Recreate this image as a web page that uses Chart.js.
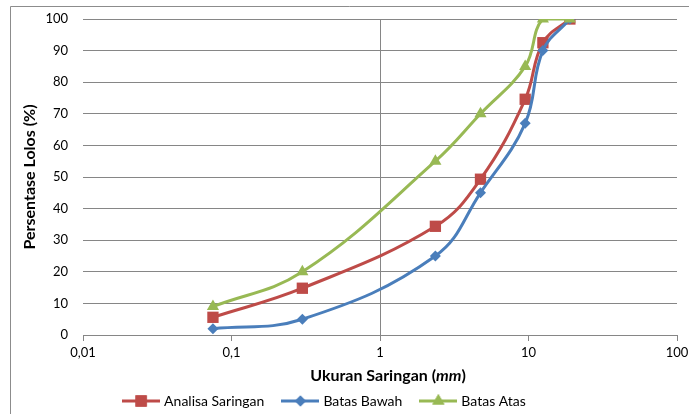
<!doctype html>
<html>
<head>
<meta charset="utf-8">
<title>Analisa Saringan</title>
<script src="https://cdn.jsdelivr.net/npm/chart.js@4.4.0/dist/chart.umd.min.js"></script>
<style>
	body { margin: 0; background: #fff; }
	#wrap { width: 689px; height: 414px; position: relative; }
</style>
</head>
<body>
<div id="wrap"><canvas id="canvas"></canvas></div>
<script>
	// ukuran saringan (mm) dan persentase lolos (%)
	var ukuran = [0.075, 0.3, 2.36, 4.75, 9.5, 12.5, 19];
	var analisa = [5.6, 14.8, 34.4, 49.3, 74.6, 92.5, 100];
	var batasBawah = [2, 5, 25, 45, 67, 90, 100];
	var batasAtas = [9, 20, 55, 70, 85, 100, 100];
	var xTicks = [0.01, 0.1, 1, 10, 100];
	var xTickLabels = ['0,01', '0,1', '1', '10', '100'];

	var merah = '#BE4B48', biru = '#4A7EBB', hijau = '#98B954';
	var abu = '#868686';
	var fontName = 'Lato';

	function toPoints(ys) {
		return ukuran.map(function (x, i) { return { x: x, y: ys[i] }; });
	}

	// gambar kecil untuk legenda: garis + penanda
	function legendIcon(color, style, r) {
		var cv = document.createElement('canvas');
		cv.width = 38; cv.height = 16;
		var c = cv.getContext('2d');
		c.strokeStyle = color; c.fillStyle = color; c.lineWidth = 3;
		c.beginPath(); c.moveTo(0, 8); c.lineTo(38, 8); c.stroke();
		Chart.helpers.drawPoint(c, { pointStyle: style, radius: r, borderWidth: 0 }, 19, 8);
		c.fill();
		return cv;
	}

	var frame = {
		id: 'frame',
		beforeDraw: function (chart) {
			var c = chart.ctx;
			c.save();
			c.strokeStyle = '#8c8c8c';
			c.lineWidth = 1;
			c.beginPath();
			c.moveTo(10.5, 414); c.lineTo(10.5, 6.5); c.lineTo(689, 6.5);
			c.stroke();
			c.restore();
		},
		afterLayout: function (chart) {
			// legenda sedikit ke kiri seperti aslinya
			chart.legend.right -= 26;
		}
	};

	var xTitle = {
		id: 'xTitle',
		afterDraw: function (chart) {
			var c = chart.ctx;
			var f = 'bold 16px ' + fontName;
			var parts = [['Ukuran Saringan (', f], ['mm', 'italic ' + f], [')', f]];
			var total = 0;
			parts.forEach(function (p) { c.font = p[1]; p[2] = c.measureText(p[0]).width; total += p[2]; });
			var area = chart.chartArea;
			var x = (area.left + area.right) / 2 + 8 - total / 2;
			var y = chart.scales.x.top + 41;
			c.save();
			c.fillStyle = '#000';
			c.textBaseline = 'middle';
			parts.forEach(function (p) { c.font = p[1]; c.fillText(p[0], x, y); x += p[2]; });
			c.restore();
		}
	};

	var icons = [legendIcon(merah, 'rect', 8), legendIcon(biru, 'rectRot', 5.5), legendIcon(hijau, 'triangle', 7)];

	new Chart(document.getElementById('canvas'), {
		type: 'line',
		data: {
			datasets: [{
				label: 'Analisa Saringan',
				data: toPoints(analisa),
				borderColor: merah, backgroundColor: merah,
				pointStyle: 'rect', pointRadius: 8, order: 3
			}, {
				label: 'Batas Bawah',
				data: toPoints(batasBawah),
				borderColor: biru, backgroundColor: biru,
				pointStyle: 'rectRot', pointRadius: 5.5, order: 2
			}, {
				label: 'Batas Atas',
				data: toPoints(batasAtas),
				borderColor: hijau, backgroundColor: hijau,
				pointStyle: 'triangle', pointRadius: 7, order: 1
			}]
		},
		options: {
			responsive: true,
			maintainAspectRatio: false,
			animation: false,
			events: [],
			layout: { autoPadding: false, padding: { top: 19, right: 12, left: 0, bottom: 0 } },
			elements: {
				line: { borderWidth: 3, tension: 0.4, fill: false },
				point: { borderWidth: 0, hoverRadius: 8 }
			},
			scales: {
				x: {
					type: 'logarithmic',
					min: 0.01, max: 100,
					afterBuildTicks: function (scale) {
						scale.ticks = xTicks.map(function (v) { return { value: v }; });
					},
					afterFit: function (scale) {
						scale.height = 39;
						scale.paddingLeft = 0; scale.paddingRight = 0;
					},
					ticks: {
						autoSkip: false, maxRotation: 0, padding: 4,
						color: '#000', font: { family: fontName, size: 13 },
						callback: function (v) { return xTickLabels[xTicks.indexOf(v)]; }
					},
					grid: {
						color: function (ctx) { return ctx.tick && ctx.tick.value === 1 ? abu : 'rgba(0,0,0,0)'; },
						tickColor: abu, tickLength: 6, lineWidth: 1
					},
					border: { display: true, color: abu, width: 1 }
				},
				y: {
					min: 0, max: 100,
					afterFit: function (scale) {
						scale.width = 83;
						scale.paddingTop = 0; scale.paddingBottom = 0;
					},
					ticks: { stepSize: 10, padding: 15, color: '#000', font: { family: fontName, size: 13 } },
					grid: { color: abu, drawTicks: false, lineWidth: 1 },
					border: { display: false },
					title: {
						display: true, text: 'Persentase Lolos (%)', color: '#000',
						font: { family: fontName, size: 16, weight: 'bold' },
						padding: { top: 20, bottom: 0 }
					}
				}
			},
			plugins: {
				tooltip: { enabled: false },
				legend: {
					position: 'bottom',
					maxHeight: 40,
					labels: {
						usePointStyle: true, pointStyleWidth: 32, padding: 20,
						color: '#000', font: { family: fontName, size: 14 },
						sort: function (a, b) { return a.datasetIndex - b.datasetIndex; },
						generateLabels: function (chart) {
							return chart.data.datasets.map(function (ds, i) {
								return { text: ds.label, pointStyle: icons[i], datasetIndex: i, fontColor: '#000', lineWidth: 0, strokeStyle: ds.borderColor, fillStyle: ds.borderColor };
							});
						}
					}
				}
			}
		},
		plugins: [frame, xTitle]
	});
</script>
</body>
</html>
